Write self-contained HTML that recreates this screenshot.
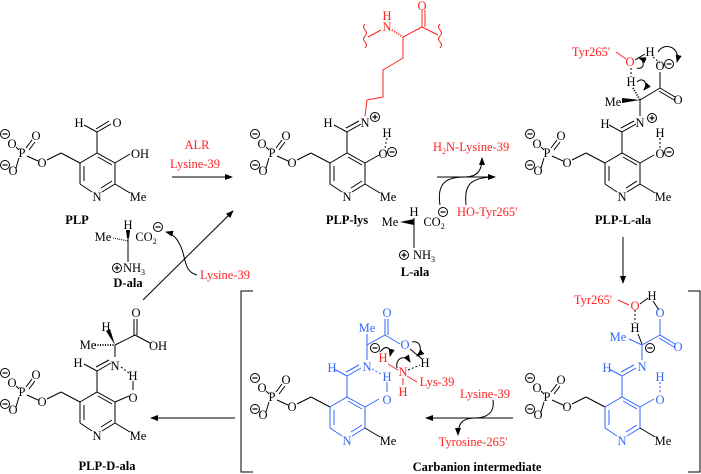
<!DOCTYPE html>
<html><head><meta charset="utf-8"><style>
html,body{margin:0;padding:0;background:#fff;width:701px;height:474px;overflow:hidden}
svg{display:block}
svg text{font-family:"Liberation Serif","DejaVu Serif",serif !important;font-size:12.5px}
.b{font-weight:bold}
.r{fill:#f22}
.u{fill:#36f}
</style></head><body>
<svg width="701" height="474" viewBox="0 0 701 474" xmlns="http://www.w3.org/2000/svg" font-family="Liberation Serif, serif">
<defs>
<marker id="ah" markerWidth="8" markerHeight="6" refX="7" refY="3" orient="auto" markerUnits="userSpaceOnUse"><path d="M0,0 L8,3 L0,6 Z" fill="#000"/></marker>
<g id="neg"><circle r="4.5" fill="#fff" stroke="#000" stroke-width="1"/><line x1="-2.5" x2="2.5" y1="0" y2="0" stroke="#000" stroke-width="1.2"/></g>
<g id="pos"><circle r="4.5" fill="#fff" stroke="#000" stroke-width="1"/><line x1="-2.5" x2="2.5" y1="0" y2="0" stroke="#000" stroke-width="1.2"/><line y1="-2.5" y2="2.5" x1="0" x2="0" stroke="#000" stroke-width="1.2"/></g>
<g id="phos" stroke="#000" stroke-width="1" fill="none">
<line x1="26" y1="148" x2="32" y2="140"/><line x1="29" y1="150" x2="35" y2="142"/>
<line x1="16" y1="147" x2="19" y2="150"/><line x1="16" y1="168" x2="19" y2="158"/>
<line x1="27" y1="156" x2="38" y2="161"/><line x1="47" y1="160" x2="61" y2="153"/><line x1="61" y1="153" x2="80" y2="163"/>
</g>
</defs>

<!-- PLP -->
<g transform="translate(0,0)">
<use href="#phos"/>
<text x="22" y="157" text-anchor="middle">P</text><text x="36" y="140" text-anchor="middle">O</text>
<text x="12" y="148" text-anchor="middle">O</text><text x="13" y="175" text-anchor="middle">O</text>
<text x="42" y="167" text-anchor="middle">O</text>
<use href="#neg" x="5" y="134"/><use href="#neg" x="5" y="165"/>
<g stroke="#000" stroke-width="1" fill="none">
<path d="M80,163 L97,153 L115,163 L115,184 L102,192 M92,192 L80,184 Z"/>
<line x1="80" y1="163" x2="80" y2="184"/><line x1="84" y1="166" x2="84" y2="181"/>
<line x1="98" y1="157" x2="112" y2="165"/><line x1="112" y1="181" x2="101" y2="188"/>
<line x1="115" y1="184" x2="130" y2="193"/><line x1="115" y1="163" x2="130" y2="154"/>
<line x1="97" y1="153" x2="97" y2="132"/><line x1="97" y1="132" x2="84" y2="125"/>
<line x1="97" y1="132" x2="111" y2="124"/><line x1="96" y1="129" x2="109" y2="121"/>
</g>
<text x="97" y="201" text-anchor="middle">N</text><text x="138" y="201" text-anchor="middle">Me</text>
<text x="140" y="158" text-anchor="middle">OH</text><text x="79" y="127" text-anchor="middle">H</text><text x="117" y="127" text-anchor="middle">O</text>
<text x="77" y="224" text-anchor="middle" class="b">PLP</text>
</g>

<text x="197" y="149" text-anchor="middle" class="r">ALR</text>
<text x="195" y="168" text-anchor="middle" class="r">Lysine-39</text>
<line x1="172" y1="177" x2="232" y2="177" stroke="#000" marker-end="url(#ah)"/>

<!-- PLP-lys -->
<g transform="translate(250,0)">
<use href="#phos"/>
<text x="22" y="157" text-anchor="middle">P</text><text x="36" y="140" text-anchor="middle">O</text>
<text x="12" y="148" text-anchor="middle">O</text><text x="13" y="175" text-anchor="middle">O</text>
<text x="42" y="167" text-anchor="middle">O</text>
<use href="#neg" x="5" y="134"/><use href="#neg" x="5" y="165"/>
<g stroke="#000" stroke-width="1" fill="none">
<path d="M80,163 L97,153 L115,163 L115,184 L102,192 M92,192 L80,184 Z"/>
<line x1="80" y1="163" x2="80" y2="184"/><line x1="84" y1="166" x2="84" y2="181"/>
<line x1="98" y1="157" x2="112" y2="165"/><line x1="112" y1="181" x2="101" y2="188"/>
<line x1="115" y1="184" x2="130" y2="193"/><line x1="115" y1="163" x2="129" y2="155"/>
<line x1="97" y1="153" x2="97" y2="132"/><line x1="97" y1="132" x2="84" y2="125"/>
<line x1="97" y1="132" x2="111" y2="124"/><line x1="96" y1="128" x2="109" y2="121"/>
<line x1="137" y1="138" x2="135" y2="148" stroke-dasharray="2,2"/>
</g>
<text x="97" y="201" text-anchor="middle">N</text><text x="138" y="201" text-anchor="middle">Me</text>
<text x="78" y="127" text-anchor="middle">H</text>
<text x="115" y="127" text-anchor="middle">N</text><use href="#pos" x="125" y="117"/>
<text x="137" y="137" text-anchor="middle">H</text>
<text x="133" y="158" text-anchor="middle">O</text><use href="#neg" x="142" y="152"/>
<text x="97" y="224" text-anchor="middle" class="b">PLP-lys</text>
</g>
<g stroke="#f22" stroke-width="1" fill="none">
<path d="M365,116 L367,100 L383,97 L383,70 L403,58 L403,37 L422,27"/>
<line x1="422" y1="27" x2="422" y2="10"/><line x1="425" y1="27" x2="425" y2="10"/>
<line x1="422" y1="27" x2="438" y2="35"/>
<line x1="392" y1="30" x2="403" y2="37" stroke-dasharray="1,1.5" stroke-width="2"/>
<line x1="381" y1="30" x2="368" y2="37"/>
<path d="M365,24 q-3,3 0,6 q3,3 0,6 q-3,3 0,6 q3,3 0,6"/>
<path d="M440,24 q-3,3 0,6 q3,3 0,6 q-3,3 0,6 q3,3 0,6"/>
</g>
<text x="387" y="31" text-anchor="middle" class="r" font-size="11">N</text>
<text x="387" y="20" text-anchor="middle" class="r" font-size="11">H</text>
<text x="422" y="10" text-anchor="middle" class="r">O</text>

<!-- L-ala -->
<text x="433" y="151" class="r">H<tspan font-size="8" dy="3">2</tspan><tspan dy="-3">N-Lysine-39</tspan></text>
<text x="457" y="216" class="r">HO-Tyr265'</text>
<line x1="437" y1="177" x2="495" y2="177" stroke="#000" marker-end="url(#ah)"/>
<path d="M440,205 C436,180 450,177 465,177 C478,177 482,170 482,158" stroke="#000" fill="none" marker-end="url(#ah)"/>
<path d="M466,205 C464,185 470,178 492,177" stroke="#000" fill="none"/>
<text x="390" y="226" text-anchor="middle">Me</text>
<text x="414" y="216" text-anchor="middle">H</text>
<path d="M400,222 L414,225 L414,219 Z" fill="#000"/>
<line x1="414" y1="218" x2="414" y2="248" stroke="#000"/>
<text x="434" y="226" text-anchor="middle">CO<tspan font-size="8" dy="3">2</tspan></text>
<use href="#neg" x="443" y="212"/>
<use href="#pos" x="404" y="255"/><text x="424" y="259" text-anchor="middle">NH<tspan font-size="8" dy="3">3</tspan></text>
<text x="415" y="276" text-anchor="middle" class="b">L-ala</text>

<!-- PLP-L-ala -->
<g transform="translate(525,0)">
<use href="#phos"/>
<text x="22" y="157" text-anchor="middle">P</text><text x="36" y="140" text-anchor="middle">O</text>
<text x="12" y="148" text-anchor="middle">O</text><text x="13" y="175" text-anchor="middle">O</text>
<text x="42" y="167" text-anchor="middle">O</text>
<use href="#neg" x="5" y="134"/><use href="#neg" x="5" y="165"/>
<g stroke="#000" stroke-width="1" fill="none">
<path d="M80,163 L97,153 L115,163 L115,184 L102,192 M92,192 L80,184 Z"/>
<line x1="80" y1="163" x2="80" y2="184"/><line x1="84" y1="166" x2="84" y2="181"/>
<line x1="98" y1="157" x2="112" y2="165"/><line x1="112" y1="181" x2="101" y2="188"/>
<line x1="115" y1="184" x2="130" y2="193"/><line x1="115" y1="163" x2="129" y2="155"/>
<line x1="97" y1="153" x2="97" y2="132"/><line x1="97" y1="132" x2="84" y2="125"/>
<line x1="97" y1="132" x2="111" y2="124"/><line x1="96" y1="128" x2="109" y2="121"/>
<line x1="135" y1="138" x2="135" y2="148" stroke-dasharray="2,2"/>
<line x1="115" y1="116" x2="115" y2="100"/>
<line x1="115" y1="100" x2="135" y2="88"/>
<line x1="135" y1="88" x2="150" y2="97"/><line x1="134" y1="91" x2="149" y2="100"/>
<line x1="135" y1="88" x2="135" y2="72"/>
<line x1="108" y1="88" x2="115" y2="100" stroke-dasharray="1,1.5" stroke-width="2"/>
<line x1="106" y1="68" x2="106" y2="77" stroke-dasharray="2,2"/>
<line x1="128" y1="57" x2="135" y2="63" stroke-dasharray="2,2"/>
<path d="M112,68 C120,70 120,60 114,58" marker-end="url(#ah)"/>
<path d="M112,82 C118,76 124,84 119,90" marker-end="url(#ah)"/>
<path d="M133,52 C138,42 156,46 152,62" marker-end="url(#ah)"/>
</g>
<path d="M115,100 L97,103 L97,98 Z" fill="#000"/>
<text x="97" y="201" text-anchor="middle">N</text><text x="138" y="201" text-anchor="middle">Me</text>
<text x="80" y="128" text-anchor="middle">H</text>
<text x="115" y="127" text-anchor="middle">N</text><use href="#pos" x="127" y="118"/>
<text x="135" y="137" text-anchor="middle">H</text>
<text x="135" y="158" text-anchor="middle">O</text><use href="#neg" x="144" y="152"/>
<text x="88" y="106" text-anchor="middle">Me</text>
<text x="106" y="86" text-anchor="middle">H</text>
<text x="135" y="70" text-anchor="middle">O</text><use href="#neg" x="144" y="64"/>
<text x="153" y="104" text-anchor="middle">O</text>
<text x="66" y="56" text-anchor="middle" class="r">Tyr265'</text>
<line x1="91" y1="52" x2="101" y2="59" stroke="#f22"/>
<text x="105" y="66" text-anchor="middle" class="r">O</text>
<line x1="110" y1="60" x2="120" y2="54" stroke="#000"/>
<text x="125" y="56" text-anchor="middle">H</text>
<text x="98" y="224" text-anchor="middle" class="b">PLP-L-ala</text>
</g>

<line x1="623" y1="237" x2="623" y2="283" stroke="#000" marker-end="url(#ah)"/>

<!-- D-ala -->
<text x="103" y="241" text-anchor="middle">Me</text>
<text x="128" y="229" text-anchor="middle">H</text>
<path d="M113,238 L128,241 L128,235" fill="none" stroke="#000" stroke-dasharray="1,1"/>
<path d="M126,230 L130,230 L129,238 L127,238 Z" fill="#000"/>
<line x1="128" y1="238" x2="128" y2="262" stroke="#000"/>
<text x="146" y="241" text-anchor="middle">CO<tspan font-size="8" dy="3">2</tspan></text>
<use href="#neg" x="158" y="227"/>
<use href="#pos" x="117" y="268"/><text x="134" y="272" text-anchor="middle">NH<tspan font-size="8" dy="3">3</tspan></text>
<text x="128" y="287" text-anchor="middle" class="b">D-ala</text>
<text x="200" y="279" class="r">Lysine-39</text>
<path d="M197,275 C183,272 186,255 180,245 C176,236 170,233 166,232" stroke="#000" fill="none" marker-end="url(#ah)"/>
<line x1="143" y1="300" x2="233" y2="211" stroke="#000" marker-end="url(#ah)"/>

<path d="M253,291 L241,291 L241,472 L253,472" stroke="#000" fill="none"/>
<path d="M688,291 L700,291 L700,472 L688,472" stroke="#000" fill="none"/>

<!-- Carbanion right -->
<g transform="translate(525,244)">
<use href="#phos"/>
<text x="22" y="157" text-anchor="middle">P</text><text x="36" y="140" text-anchor="middle">O</text>
<text x="12" y="148" text-anchor="middle">O</text><text x="13" y="175" text-anchor="middle">O</text>
<text x="42" y="167" text-anchor="middle">O</text>
<use href="#neg" x="5" y="134"/><use href="#neg" x="5" y="165"/>
<g stroke="#36f" stroke-width="1" fill="none">
<path d="M80,163 L97,153 L115,163 L115,184 L102,192 M92,192 L80,184 Z"/>
<line x1="80" y1="163" x2="80" y2="184"/><line x1="84" y1="166" x2="84" y2="181"/>
<line x1="98" y1="157" x2="112" y2="165"/><line x1="112" y1="181" x2="101" y2="188"/>
<line x1="115" y1="163" x2="129" y2="155"/>
<line x1="97" y1="153" x2="97" y2="132"/><line x1="97" y1="132" x2="84" y2="125"/>
<line x1="97" y1="132" x2="111" y2="124"/><line x1="96" y1="128" x2="109" y2="121"/>
<line x1="135" y1="138" x2="135" y2="148" stroke-dasharray="2,2"/>
<line x1="117" y1="116" x2="117" y2="101"/>
<line x1="117" y1="101" x2="135" y2="91"/>
<line x1="135" y1="91" x2="150" y2="100"/><line x1="134" y1="94" x2="149" y2="103"/>
<line x1="135" y1="91" x2="135" y2="75"/>
<line x1="117" y1="101" x2="104" y2="95"/>
</g>
<line x1="115" y1="184" x2="130" y2="193" stroke="#000"/>
<line x1="110" y1="66" x2="110" y2="79" stroke="#000" stroke-dasharray="2,2"/>
<line x1="113" y1="90" x2="117" y2="100" stroke="#000"/>
<line x1="128" y1="57" x2="134" y2="66" stroke="#000"/>
<text x="97" y="201" text-anchor="middle" class="u">N</text><text x="138" y="201" text-anchor="middle">Me</text>
<text x="82" y="128" text-anchor="middle" class="u">H</text>
<text x="117" y="127" text-anchor="middle" class="u">N</text>
<text x="135" y="137" text-anchor="middle" class="u">H</text>
<text x="135" y="160" text-anchor="middle" class="u">O</text>
<text x="93" y="97" text-anchor="middle" class="u">Me</text>
<use href="#neg" x="125" y="104"/>
<text x="110" y="88" text-anchor="middle">H</text>
<text x="135" y="73" text-anchor="middle" class="u">O</text>
<text x="153" y="107" text-anchor="middle" class="u">O</text>
<text x="68" y="60" text-anchor="middle" class="r">Tyr265'</text>
<line x1="93" y1="56" x2="104" y2="61" stroke="#f22"/>
<text x="110" y="66" text-anchor="middle" class="r">O</text>
<line x1="115" y1="60" x2="123" y2="54" stroke="#000"/>
<text x="127" y="56" text-anchor="middle">H</text>
</g>

<line x1="513" y1="418" x2="426" y2="418" stroke="#000" marker-end="url(#ah)"/>
<text x="485" y="398" text-anchor="middle" class="r">Lysine-39</text>
<text x="473" y="446" text-anchor="middle" class="r">Tyrosine-265'</text>
<path d="M493,400 C495,414 485,418 475,418 C462,418 458,424 458,435" stroke="#000" fill="none" marker-end="url(#ah)"/>

<!-- Carbanion left -->
<g transform="translate(250,244)">
<use href="#phos"/>
<text x="22" y="157" text-anchor="middle">P</text><text x="36" y="140" text-anchor="middle">O</text>
<text x="12" y="148" text-anchor="middle">O</text><text x="13" y="175" text-anchor="middle">O</text>
<text x="42" y="167" text-anchor="middle">O</text>
<use href="#neg" x="5" y="134"/><use href="#neg" x="5" y="165"/>
<g stroke="#36f" stroke-width="1" fill="none">
<path d="M80,163 L97,153 L115,163 L115,184 L102,192 M92,192 L80,184 Z"/>
<line x1="80" y1="163" x2="80" y2="184"/><line x1="84" y1="166" x2="84" y2="181"/>
<line x1="98" y1="157" x2="112" y2="165"/><line x1="112" y1="181" x2="101" y2="188"/>
<line x1="115" y1="163" x2="129" y2="155"/>
<line x1="97" y1="153" x2="97" y2="132"/><line x1="97" y1="132" x2="84" y2="125"/>
<line x1="97" y1="132" x2="111" y2="124"/><line x1="96" y1="128" x2="109" y2="121"/>
<line x1="137" y1="138" x2="137" y2="148"/>
<line x1="117" y1="116" x2="117" y2="101"/>
<line x1="117" y1="101" x2="135" y2="91"/>
<line x1="135" y1="91" x2="150" y2="100"/>
<line x1="135" y1="91" x2="135" y2="75"/><line x1="138" y1="91" x2="138" y2="75"/>
<line x1="117" y1="101" x2="117" y2="90"/>
</g>
<line x1="122" y1="125" x2="131" y2="130" stroke="#36f" stroke-dasharray="2,2"/>
<line x1="115" y1="184" x2="130" y2="193" stroke="#000"/>
<text x="97" y="201" text-anchor="middle" class="u">N</text><text x="138" y="201" text-anchor="middle">Me</text>
<text x="82" y="128" text-anchor="middle" class="u">H</text>
<text x="117" y="127" text-anchor="middle" class="u">N</text>
<text x="137" y="137" text-anchor="middle" class="u">H</text>
<text x="137" y="160" text-anchor="middle" class="u">O</text>
<text x="117" y="88" text-anchor="middle" class="u">Me</text>
<use href="#neg" x="125" y="104"/>
<text x="137" y="73" text-anchor="middle" class="u">O</text>
<text x="155" y="105" text-anchor="middle" class="u">O</text>
<line x1="160" y1="105" x2="172" y2="115" stroke="#000"/>
<text x="175" y="123" text-anchor="middle">H</text>
<line x1="138" y1="120" x2="148" y2="126" stroke="#f22"/>
<line x1="157" y1="132" x2="167" y2="138" stroke="#f22"/>
<line x1="153" y1="134" x2="153" y2="141" stroke="#f22"/>
<line x1="158" y1="126" x2="170" y2="121" stroke="#000" stroke-dasharray="2,2"/>
<text x="133" y="118" text-anchor="middle" class="r">H</text>
<text x="153" y="132" text-anchor="middle" class="r">N</text>
<text x="153" y="152" text-anchor="middle" class="r">H</text>
<text x="187" y="142" text-anchor="middle" class="r">Lys-39</text>
<g stroke="#000" fill="none">
<path d="M130,108 C136,100 142,104 140,112" marker-end="url(#ah)"/>
<path d="M147,124 C145,114 155,110 160,118" marker-end="url(#ah)"/>
<path d="M162,98 C172,96 172,108 167,112" marker-end="url(#ah)"/>
</g>
<text x="227" y="227" text-anchor="middle" class="b">Carbanion intermediate</text>
</g>

<line x1="235" y1="418" x2="151" y2="418" stroke="#000" marker-end="url(#ah)"/>

<!-- PLP-D-ala -->
<g transform="translate(0,239)">
<use href="#phos"/>
<text x="22" y="157" text-anchor="middle">P</text><text x="36" y="140" text-anchor="middle">O</text>
<text x="12" y="148" text-anchor="middle">O</text><text x="13" y="175" text-anchor="middle">O</text>
<text x="42" y="167" text-anchor="middle">O</text>
<use href="#neg" x="5" y="134"/><use href="#neg" x="5" y="165"/>
<g stroke="#000" stroke-width="1" fill="none">
<path d="M80,163 L97,153 L115,163 L115,184 L102,192 M92,192 L80,184 Z"/>
<line x1="80" y1="163" x2="80" y2="184"/><line x1="84" y1="166" x2="84" y2="181"/>
<line x1="98" y1="157" x2="112" y2="165"/><line x1="112" y1="181" x2="101" y2="188"/>
<line x1="115" y1="184" x2="130" y2="193"/><line x1="115" y1="163" x2="129" y2="157"/>
<line x1="97" y1="153" x2="97" y2="132"/><line x1="97" y1="132" x2="84" y2="125"/>
<line x1="97" y1="132" x2="111" y2="124"/><line x1="96" y1="128" x2="109" y2="121"/>
<line x1="133" y1="142" x2="133" y2="151"/>
<line x1="121" y1="128" x2="129" y2="134" stroke-dasharray="2,2"/>
<line x1="115" y1="118" x2="115" y2="106"/>
<line x1="115" y1="106" x2="135" y2="96"/>
<line x1="135" y1="96" x2="150" y2="104"/>
<line x1="134" y1="96" x2="134" y2="80"/><line x1="137" y1="96" x2="137" y2="80"/>
<line x1="95" y1="106" x2="115" y2="106" stroke-dasharray="1,1.5" stroke-width="2"/>
</g>
<path d="M115,106 L106,92 L110,90 Z" fill="#000"/>
<text x="97" y="201" text-anchor="middle">N</text><text x="138" y="201" text-anchor="middle">Me</text>
<text x="78" y="128" text-anchor="middle">H</text>
<text x="115" y="131" text-anchor="middle">N</text>
<text x="133" y="141" text-anchor="middle">H</text>
<text x="133" y="163" text-anchor="middle">O</text>
<text x="88" y="110" text-anchor="middle">Me</text>
<text x="106" y="92" text-anchor="middle">H</text>
<text x="136" y="78" text-anchor="middle">O</text>
<text x="158" y="111" text-anchor="middle">OH</text>
<text x="107" y="231" text-anchor="middle" class="b">PLP-D-ala</text>
</g>
</svg>
</body></html>
